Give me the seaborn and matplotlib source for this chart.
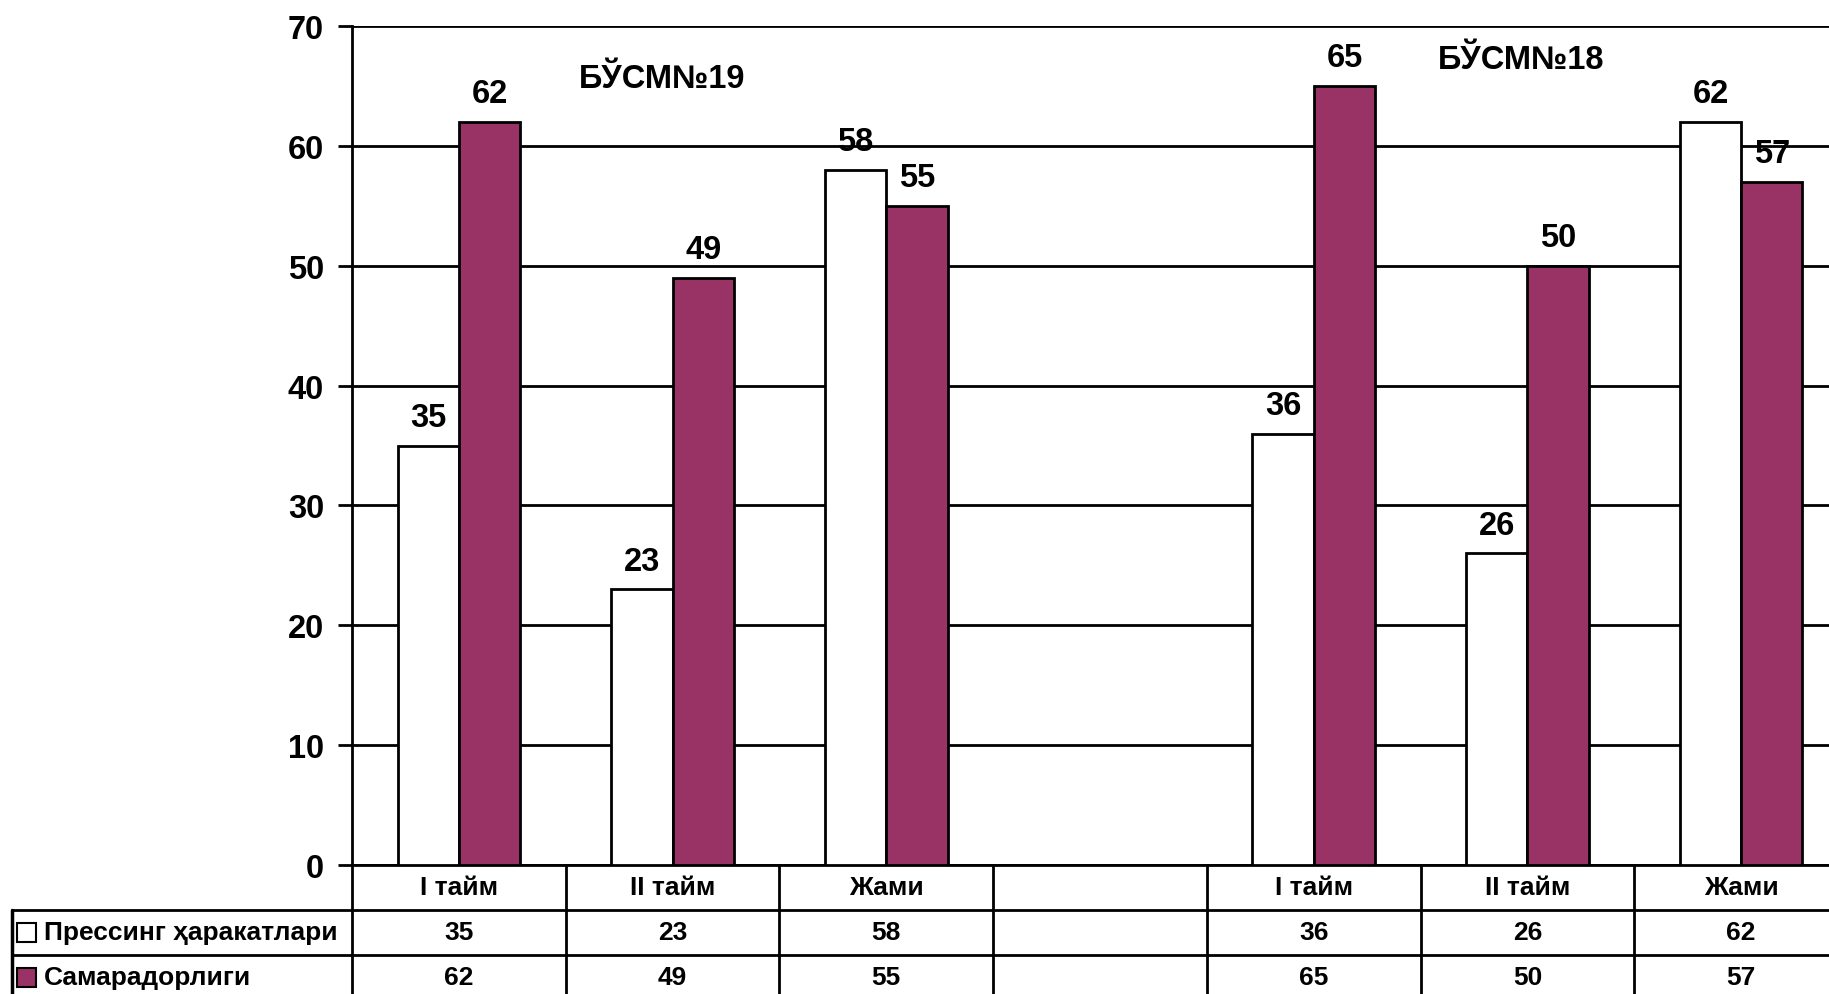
import pandas as pd
import numpy as np
import matplotlib.pyplot as plt
import seaborn as sns
from matplotlib.patches import Rectangle

sns.set_style("white")
plt.rcParams["font.family"] = ["Liberation Sans", "DejaVu Sans"]
plt.rcParams["font.weight"] = "bold"
plt.rcParams["text.color"] = "black"
plt.rcParams["ytick.color"] = "black"

# данные
slots = ["c0", "c1", "c2", "c3", "c4", "c5", "c6"]
slot_labels = ["I тайм", "II тайм", "Жами", "", "I тайм", "II тайм", "Жами"]
data_slots = ["c0", "c1", "c2", "c4", "c5", "c6"]
pressing = [35, 23, 58, 36, 26, 62]
efficiency = [62, 49, 55, 65, 50, 57]
series_names = ["Прессинг ҳаракатлари", "Самарадорлиги"]
team_labels = ["БЎСМ№19", "БЎСМ№18"]
team_x = [0.95, 4.97]
team_y = [65.6, 67.2]

PLUM = "#993366"

df = pd.DataFrame({
    "slot": data_slots * 2,
    "value": pressing + efficiency,
    "series": [series_names[0]] * len(pressing) + [series_names[1]] * len(efficiency),
})

W, H = 1829, 995
fig = plt.figure(figsize=(W / 100, H / 100), dpi=100)
ax = fig.add_axes([352 / W, 129 / H, 1496 / W, 839 / H])

sns.barplot(data=df, x="slot", y="value", hue="series", order=slots,
            hue_order=series_names, palette=["white", PLUM], width=0.574,
            edgecolor="black", linewidth=2, saturation=1, gap=0,
            legend=False, ax=ax, zorder=3)

for cont in ax.containers:
    ax.bar_label(cont, fmt="%.0f", padding=9, fontsize=23.5, fontweight="bold",
                 color="black")

ax.set_ylim(0, 70)
ax.set_xlim(-0.5, 6.5)
ax.set_yticks(range(0, 71, 10))
ax.yaxis.grid(True, color="black", linewidth=2)
ax.set_axisbelow(True)
ax.set_xticks([])
ax.set_xlabel("")
ax.set_ylabel("")
ax.tick_params(axis="y", labelsize=23.5, length=10, width=2, direction="out",
               left=True, pad=10, colors="black")
for lab in ax.get_yticklabels():
    lab.set_fontweight("bold")
for side in ["top", "right"]:
    ax.spines[side].set_visible(False)
for side in ["left", "bottom"]:
    ax.spines[side].set_linewidth(2)
    ax.spines[side].set_color("black")

for lbl, x, y in zip(team_labels, team_x, team_y):
    ax.text(x, y, lbl, ha="center", va="center", fontsize=23.5, fontweight="bold")

# таблица данных под графиком
tx = ax.get_xaxis_transform()
row_h = 45 / 839
left_col = (12 - 352) / 1496
bottom = -0.2
for k in range(len(slots) + 1):
    ax.plot([k - 0.5, k - 0.5], [0, bottom], color="black", lw=2,
            transform=tx, clip_on=False)
for r in (1, 2):
    ax.plot([left_col, 1.1], [-r * row_h, -r * row_h], color="black", lw=2,
            transform=ax.transAxes, clip_on=False)
ax.plot([left_col, left_col], [-row_h, bottom], color="black", lw=2.5,
        transform=ax.transAxes, clip_on=False)

for i, lbl in enumerate(slot_labels):
    ax.text(i, -0.5 * row_h, lbl, transform=tx, ha="center", va="center",
            fontsize=19, fontweight="bold")
for vals, r in ((pressing, 1.5), (efficiency, 2.5)):
    for s, v in zip(data_slots, vals):
        ax.text(slots.index(s), -r * row_h, str(v), transform=tx, ha="center",
                va="center", fontsize=19, fontweight="bold")

for name, color, r in ((series_names[0], "white", 1.5), (series_names[1], PLUM, 2.5)):
    sq = 19 / 1496
    sqh = 19 / 839
    ax.add_patch(Rectangle(((17 - 352) / 1496, -r * row_h - sqh / 2), sq, sqh,
                           facecolor=color, edgecolor="black", lw=1.5,
                           transform=ax.transAxes, clip_on=False))
    ax.text((44 - 352) / 1496, -r * row_h, name, transform=ax.transAxes,
            ha="left", va="center", fontsize=19, fontweight="bold")

fig.savefig("out.png", dpi=100)
